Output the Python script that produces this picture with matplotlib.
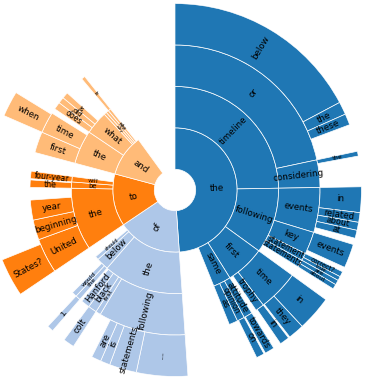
import numpy as np
import matplotlib.pyplot as plt

# word-tree sunburst: each path is a phrase, value is its share (360 = whole circle)
paths = [
    "the", "of", "to", "and",
    "the timeline", "the timeline or", "the timeline or below", "the timeline or the",
    "the timeline or these", "the timeline considering", "the timeline considering the",
    "the following", "the following events", "the following events in",
    "the following events related", "the following events about", "the following events at",
    "the following key", "the following key events",
    "the following statement", "the following statement correct?", "the following statement true",
    "the following statements", "the following statements are", "the following statements about",
    "the first", "the first time", "the first time in", "the first time they",
    "the first trophy", "the first trophy in",
    "the same", "the same attitude", "the same attitude towards",
    "the same opinion", "the same opinion on", "the same as",
    "of the", "of the following", "of the following results:", "of the following statements",
    "of the following is", "of the following are",
    "of the first", "of the black", "of the black colt", "of the Hanford",
    "of below", "of below the", "of below the 1.", "of below would", "of should",
    "to the", "to the United", "to the United States?", "to the beginning", "to the year",
    "to be", "to be the", "to will", "to will four-year",
    "and the", "and the first", "and the time", "and the time when",
    "and what", "and what does", "and what did", "and what is",
    "and why", "and how", "and who", "and who is",
]
values = [
    176, 60, 49, 39,
    89, 78, 62, 4,
    3.5, 11, 1.5,
    37, 18, 8,
    3, 2.5, 2.5,
    9, 7.5,
    3, 1.7, 1.3,
    3, 1.5, 1.5,
    22, 16.5, 11, 5,
    3.5, 3,
    10, 3.5, 3,
    3, 2.5, 3.5,
    45, 35, 16, 8.5,
    3, 3,
    2, 3.5, 3.5, 3.5,
    7, 2, 2, 2, 2,
    35, 14, 12, 8, 8,
    3.5, 3, 3, 3,
    19, 8.5, 8.5, 8,
    13, 3, 2.5, 2.5,
    1.5, 1.5, 1.5, 1.5,
]
top_colors = {"the": "#1f77b4", "of": "#aec7e8", "to": "#ff7f0e", "and": "#ffbb78"}
tiny_labels = {"of the following results:": 1.5}

fig = plt.figure(figsize=(3.66, 3.81), dpi=100)
ax = fig.add_axes([-0.0314, 0.0118, 1.019, 0.979], projection="polar")
ax.set_ylim(0, 4.5)
ax.set_axis_off()

cursor = {"": 90.0}
for path, val in zip(paths, values):
    words = path.split()
    parent = " ".join(words[:-1])
    level = len(words)
    start = cursor[parent]
    end = start - val
    cursor[parent] = end
    cursor[path] = start
    mid = (start + end) / 2
    color = top_colors[words[0]]
    ax.bar(np.radians(mid), 1, width=np.radians(val), bottom=level - 0.5,
           color=color, edgecolor="white", linewidth=0.5)

    # shrink the label in narrow wedges
    arc_px = level * 41.5 * np.radians(val)
    fs = min(6.3, 2.0 + 0.55 * arc_px)
    if path in tiny_labels:
        fs = tiny_labels[path]
    rot = mid % 360
    if 90 < rot < 270:
        rot -= 180
    ax.text(np.radians(mid), level, words[-1], rotation=rot, rotation_mode="anchor",
            ha="center", va="center", fontsize=fs, color="black")

fig.savefig("out.png", dpi=100)
